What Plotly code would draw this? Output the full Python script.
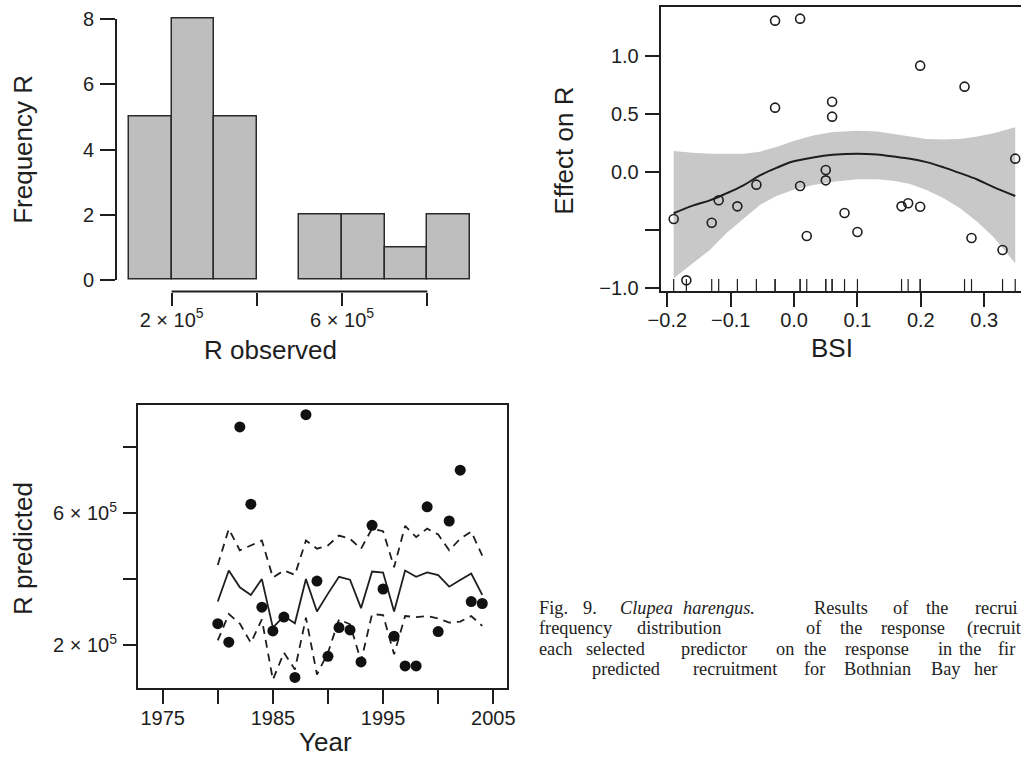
import plotly.graph_objects as go

# ---------------- data ----------------
years = list(range(1980, 2005))
r_observed = [2.65e5, 2.09e5, 8.61e5, 6.27e5, 3.15e5, 2.43e5, 2.85e5, 1.02e5, 8.98e5, 3.94e5,
              1.66e5, 2.53e5, 2.46e5, 1.49e5, 5.63e5, 3.70e5, 2.27e5, 1.37e5, 1.37e5, 6.19e5,
              2.41e5, 5.76e5, 7.30e5, 3.32e5, 3.26e5]
r_predicted = [3.32e5, 4.26e5, 3.75e5, 3.52e5, 4.00e5, 2.53e5, 2.88e5, 2.66e5, 4.00e5, 3.02e5,
               3.56e5, 4.07e5, 3.98e5, 3.12e5, 4.23e5, 4.20e5, 3.02e5, 4.26e5, 4.07e5, 4.20e5,
               4.12e5, 3.77e5, 3.97e5, 4.17e5, 3.52e5]
r_upper = [4.43e5, 5.52e5, 4.87e5, 5.02e5, 5.17e5, 4.05e5, 4.26e5, 4.13e5, 5.17e5, 4.92e5,
           5.02e5, 5.32e5, 5.22e5, 4.92e5, 5.53e5, 5.45e5, 4.36e5, 5.61e5, 5.27e5, 5.53e5,
           5.35e5, 4.87e5, 5.22e5, 5.44e5, 4.71e5]
r_lower = [2.14e5, 2.94e5, 2.65e5, 2.07e5, 2.78e5, 0.95e5, 1.77e5, 1.26e5, 2.83e5, 1.11e5,
           1.77e5, 2.78e5, 2.63e5, 1.51e5, 2.94e5, 2.91e5, 1.72e5, 2.88e5, 2.85e5, 2.88e5,
           2.81e5, 2.68e5, 2.71e5, 2.88e5, 2.58e5]

bsi = [-0.190, -0.170, -0.130, -0.119, -0.0895, -0.0595, -0.030, -0.030, 0.0095, 0.0095,
       0.020, 0.050, 0.050, 0.060, 0.060, 0.0796, 0.100, 0.1696, 0.180, 0.199,
       0.199, 0.269, 0.280, 0.329, 0.349]
effect_r = [-0.405, -0.934, -0.437, -0.244, -0.296, -0.109, 1.305, 0.555, 1.322, -0.121,
            -0.552, 0.017, -0.072, 0.606, 0.477, -0.353, -0.517, -0.296, -0.270, -0.299,
            0.917, 0.736, -0.569, -0.672, 0.115]

smooth_x = [-0.19, -0.16, -0.133, -0.107, -0.08, -0.054, -0.028, -0.002, 0.03, 0.061,
            0.10, 0.131, 0.157, 0.183, 0.209, 0.236, 0.262, 0.289, 0.315, 0.349]
smooth_fit = [-0.356, -0.29, -0.245, -0.185, -0.115, -0.03, 0.035, 0.09, 0.125, 0.148,
              0.158, 0.15, 0.133, 0.115, 0.085, 0.04, -0.01, -0.065, -0.13, -0.207]
smooth_upper = [0.18, 0.165, 0.158, 0.155, 0.158, 0.175, 0.215, 0.265, 0.315, 0.345,
                0.355, 0.35, 0.33, 0.305, 0.285, 0.28, 0.285, 0.305, 0.335, 0.385]
smooth_lower = [-0.917, -0.787, -0.672, -0.529, -0.40, -0.284, -0.207, -0.155, -0.112, -0.083,
                -0.063, -0.063, -0.075, -0.103, -0.155, -0.227, -0.313, -0.428, -0.563, -0.787]

hist_ticks = [2e5, 4e5, 6e5, 8e5]
hist_ticktext = ["2 × 10<sup>5</sup>", "", "6 × 10<sup>5</sup>", ""]
freq_ticks = [0, 2, 4, 6, 8]
freq_ticktext = ["0", "2", "4", "6", "8"]
bsi_ticks = [-0.2, -0.1, 0.0, 0.1, 0.2, 0.3]
bsi_ticktext = ["−0.2", "−0.1", "0.0", "0.1", "0.2", "0.3"]
eff_ticks = [-1.0, -0.5, 0.0, 0.5, 1.0]
eff_ticktext = ["−1.0", "", "0.0", "0.5", "1.0"]
year_ticks = [1975, 1980, 1985, 1990, 1995, 2000, 2005]
year_ticktext = ["1975", "", "1985", "", "1995", "", "2005"]
pred_ticks = [2e5, 4e5, 6e5, 8e5]
pred_ticktext = ["2 × 10<sup>5</sup>", "", "6 × 10<sup>5</sup>", ""]

# ---------------- layout helpers ----------------
W, H = 1021, 757
def fx(x):
    return x / W
def fy(y):
    return 1 - y / H

INK = "#1e1e1e"
SANS = "Liberation Sans, Arial, sans-serif"
SERIF = "Liberation Serif, serif"
TICKFONT = dict(family=SANS, size=20, color=INK)

fig = go.Figure()

# Histogram
fig.add_trace(go.Histogram(
    x=r_observed, xbins=dict(start=1e5, end=9e5, size=1e5),
    marker=dict(color="#bebebe", line=dict(color="#2a2a2a", width=1.5)),
    xaxis="x", yaxis="y", showlegend=False))

# Smooth band and fit
fig.add_trace(go.Scatter(x=smooth_x, y=smooth_upper, mode="lines", line=dict(width=0),
                         xaxis="x2", yaxis="y2", showlegend=False, hoverinfo="skip"))
fig.add_trace(go.Scatter(x=smooth_x, y=smooth_lower, mode="lines", line=dict(width=0),
                         fill="tonexty", fillcolor="#c8c8c8",
                         xaxis="x2", yaxis="y2", showlegend=False, hoverinfo="skip"))
fig.add_trace(go.Scatter(x=smooth_x, y=smooth_fit, mode="lines",
                         line=dict(color=INK, width=2, shape="spline"),
                         xaxis="x2", yaxis="y2", showlegend=False))
fig.add_trace(go.Scatter(x=bsi, y=effect_r, mode="markers",
                         marker=dict(symbol="circle-open", size=9, color=INK, line=dict(width=1.6)),
                         xaxis="x2", yaxis="y2", showlegend=False))
EFF_RANGE = [-1.026, 1.42]
fig.add_trace(go.Scatter(x=bsi, y=[EFF_RANGE[0]] * len(bsi), mode="markers",
                         marker=dict(symbol="line-ns-open", size=17, color=INK, line=dict(width=1.2, color=INK)),
                         cliponaxis=True, xaxis="x2", yaxis="y2", showlegend=False, hoverinfo="skip"))

# Time series
fig.add_trace(go.Scatter(x=years, y=r_upper, mode="lines", line=dict(color=INK, width=1.8, dash="8px,6px"),
                         xaxis="x3", yaxis="y3", showlegend=False))
fig.add_trace(go.Scatter(x=years, y=r_lower, mode="lines", line=dict(color=INK, width=1.8, dash="8px,6px"),
                         xaxis="x3", yaxis="y3", showlegend=False))
fig.add_trace(go.Scatter(x=years, y=r_predicted, mode="lines", line=dict(color=INK, width=1.8),
                         xaxis="x3", yaxis="y3", showlegend=False))
fig.add_trace(go.Scatter(x=years, y=r_observed, mode="markers",
                         marker=dict(symbol="circle", size=11, color="#111111"),
                         xaxis="x3", yaxis="y3", showlegend=False))


def ticks(vals, texts, ticklen, standoff):
    """Labelled ticks as major ticks, unlabelled ones as minor ticks of the same look."""
    major = [v for v, t in zip(vals, texts) if t]
    major_t = [t for t in texts if t]
    minor = [v for v, t in zip(vals, texts) if not t]
    d = dict(showgrid=False, zeroline=False, ticks="outside", tickwidth=2, tickcolor=INK,
             ticklen=ticklen, tickfont=TICKFONT, linecolor=INK, linewidth=2,
             tickmode="array", tickvals=major, ticktext=major_t, ticklabelstandoff=standoff)
    if minor:
        d["minor"] = dict(tickmode="array", tickvals=minor, ticks="outside", ticklen=ticklen,
                          tickwidth=2, tickcolor=INK, showgrid=False)
    return d


fig.update_layout(
    width=W, height=H, margin=dict(l=0, r=0, t=0, b=0, autoexpand=False),
    paper_bgcolor="white", plot_bgcolor="white", bargap=0,
    xaxis=dict(domain=[fx(116), fx(484)], range=[0.695e5, 9.33e5], anchor="y", showline=False,
               **ticks(hist_ticks, hist_ticktext, 13, -3)),
    yaxis=dict(domain=[fy(291.5), fy(8.6)], range=[-0.35, 8.32], anchor="x", showline=False,
               **ticks(freq_ticks, freq_ticktext, 15, 2)),
    xaxis2=dict(domain=[fx(660.7), 1.0], range=[-0.2105, 0.3581], anchor="y2", showline=True, mirror=True,
                **ticks(bsi_ticks, bsi_ticktext, 14, -4)),
    yaxis2=dict(domain=[fy(291), fy(7.3)], range=EFF_RANGE, anchor="x2", showline=True,
                **ticks(eff_ticks, eff_ticktext, 14, 2)),
    xaxis3=dict(domain=[fx(138), fx(506.5)], range=[1972.76, 2006.2], anchor="y3", showline=True, mirror=True,
                **ticks(year_ticks, year_ticktext, 14, -3)),
    yaxis3=dict(domain=[fy(688), fy(404.5)], range=[0.70e5, 9.29e5], anchor="x3", showline=True, mirror=True,
                **ticks(pred_ticks, pred_ticktext, 13, 2)),
)

# Partial R-style axis lines of the histogram (span first..last tick)
fig.add_shape(type="line", xref="x", yref="y domain", x0=hist_ticks[0], x1=hist_ticks[-1], y0=0, y1=0,
              line=dict(color=INK, width=2))
fig.add_shape(type="line", xref="x domain", yref="y", x0=0, x1=0, y0=freq_ticks[0], y1=freq_ticks[-1],
              line=dict(color=INK, width=2))

# Axis titles
titles = [
    ("Frequency R", 23.3, 149.5, -90),
    ("R observed", 270.8, 350, 0),
    ("Effect on R", 564, 150.7, -90),
    ("BSI", 831.7, 348.3, 0),
    ("R predicted", 23, 549, -90),
    ("Year", 325, 741.5, 0),
]
for text, x, y, ang in titles:
    fig.add_annotation(text=text, x=fx(x), y=fy(y), xref="paper", yref="paper", showarrow=False,
                       textangle=ang, xanchor="center", yanchor="middle", borderpad=0,
                       font=dict(family=SANS, size=26, color=INK))

# Caption (justified, cut at the right edge)
caption = [
    (607.5, [("Fig.", 538), ("9.", 581.7), ("<i>Clupea</i>", 619.3), ("<i>harengus.</i>", 681.7),
             ("Results", 812.7), ("of", 891.7), ("the", 925), ("recrui", 974)]),
    (628, [("frequency", 538), ("distribution", 636), ("of", 805), ("the", 839.3),
           ("response", 880), ("(recruit", 966)]),
    (648.5, [("each", 538), ("selected", 585), ("predictor", 680), ("on", 775), ("the", 803),
             ("response", 844), ("in", 936.7), ("the", 957.7), ("fir", 996.7)]),
    (669, [("predicted", 590.7), ("recruitment", 691.7), ("for", 803.3), ("Bothnian", 843.3),
           ("Bay", 930), ("her", 973.3)]),
]
for y, words in caption:
    for w, x in words:
        fig.add_annotation(text=w, x=fx(x), y=fy(y), xref="paper", yref="paper", showarrow=False,
                           xanchor="left", yanchor="middle", borderpad=0,
                           font=dict(family=SERIF, size=18.3, color="#222222"))

fig.write_html("out.html")
